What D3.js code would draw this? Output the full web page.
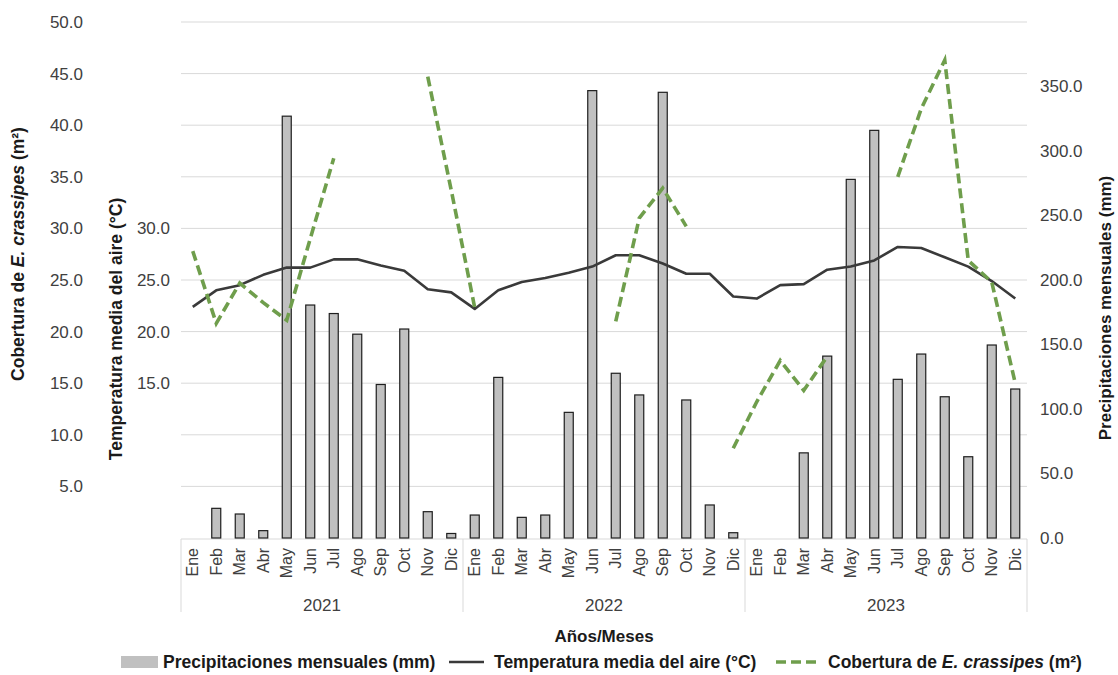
<!DOCTYPE html>
<html>
<head>
<meta charset="utf-8">
<script src="https://cdn.jsdelivr.net/npm/d3@7"></script>
<style>
  body { margin: 0; background: #fff; }
  svg text { font-family: "Liberation Sans", Arial, sans-serif; }
</style>
</head>
<body>
<div id="chart"></div>
<script>
// months and years on the category axis
const months = ["Ene","Feb","Mar","Abr","May","Jun","Jul","Ago","Sep","Oct","Nov","Dic"];
const years = ["2021","2022","2023"];

// monthly rainfall (mm), 2021..2023, null = no bar
const precip2021 = [null, 23, 18.6, 5.7, 327, 180.6, 174, 158, 119, 162, 20.4, 3.5];
const precip2022 = [17.8, 124.5, 16, 17.8, 97.4, 346.8, 127.7, 110.9, 345.5, 107, 25.6, 4.1];
const precip2023 = [null, null, 66, 141, 278, 316, 123, 142.6, 109.5, 63, 149.6, 115.5];

// mean air temperature (°C)
const temp2021 = [22.4, 24.0, 24.5, 25.5, 26.2, 26.2, 27.0, 27.0, 26.4, 25.9, 24.1, 23.8];
const temp2022 = [22.2, 24.0, 24.8, 25.2, 25.7, 26.3, 27.4, 27.4, 26.6, 25.6, 25.6, 23.4];
const temp2023 = [23.2, 24.5, 24.6, 26.0, 26.3, 26.9, 28.2, 28.1, 27.2, 26.3, 24.9, 23.2];

// E. crassipes cover (m2), null = gap in the line
const cob2021 = [27.8, 20.8, 24.7, 22.8, 21.1, 29.0, 36.8, null, null, null, 44.7, 33.7];
const cob2022 = [22.3, null, null, null, null, null, 21.0, 31.0, 33.9, 30.2, null, 8.7];
const cob2023 = [13.2, 17.2, 14.3, 17.6, null, null, 35.0, 41.6, 46.3, 26.9, 24.8, 15.0];

const precip = precip2021.concat(precip2022, precip2023);
const temp = temp2021.concat(temp2022, temp2023);
const cob = cob2021.concat(cob2022, cob2023);

const width = 1118, height = 675;
const plot = { left: 181, right: 1027, top: 22, bottom: 538 };

const svg = d3.select("#chart").append("svg")
  .attr("width", width)
  .attr("height", height);

// scales
const x = d3.scaleBand()
  .domain(d3.range(36))
  .range([plot.left, plot.right]);
const yLeft = d3.scaleLinear().domain([0, 50]).range([plot.bottom, plot.top]);
const yRight = d3.scaleLinear().domain([0, 400]).range([plot.bottom, plot.top]);
const cx = i => x(i) + x.bandwidth() / 2;

// gridlines
svg.append("g")
  .selectAll("line")
  .data(d3.range(5, 51, 5))
  .enter().append("line")
    .attr("x1", plot.left).attr("x2", plot.right)
    .attr("y1", d => yLeft(d)).attr("y2", d => yLeft(d))
    .attr("stroke", "#d9d9d9")
    .attr("stroke-width", 1);

// category box
const box = svg.append("g").attr("stroke", "#d9d9d9").attr("stroke-width", 1);
box.append("line")
  .attr("x1", plot.left).attr("x2", plot.right)
  .attr("y1", plot.bottom + 1).attr("y2", plot.bottom + 1);
box.selectAll(".sep")
  .data(d3.range(0, 37, 12))
  .enter().append("line")
    .attr("class", "sep")
    .attr("x1", d => d < 36 ? x(d) : plot.right)
    .attr("x2", d => d < 36 ? x(d) : plot.right)
    .attr("y1", plot.bottom + 1).attr("y2", 612);

// axes
const fmt = d3.format(".1f");
function styleAxis(g) {
  g.select(".domain").remove();
  g.selectAll("text").attr("font-size", "17px").attr("fill", "#404040")
    .style("font-family", "'Liberation Sans', Arial, sans-serif");
}
svg.append("g")
  .attr("transform", "translate(83,0)")
  .call(d3.axisLeft(yLeft).tickValues(d3.range(5, 51, 5)).tickFormat(fmt).tickSize(0).tickPadding(0))
  .call(styleAxis);
svg.append("g")
  .attr("transform", "translate(170,0)")
  .call(d3.axisLeft(yLeft).tickValues([15, 20, 25, 30]).tickFormat(fmt).tickSize(0).tickPadding(0))
  .call(styleAxis);
svg.append("g")
  .attr("transform", "translate(1040,0)")
  .call(d3.axisRight(yRight).tickValues(d3.range(0, 351, 50)).tickFormat(fmt).tickSize(0).tickPadding(0))
  .call(styleAxis);

// month labels
svg.append("g")
  .selectAll("text")
  .data(d3.range(36))
  .enter().append("text")
    .attr("transform", d => "translate(" + cx(d) + ",548) rotate(-90)")
    .attr("dy", "0.35em")
    .attr("text-anchor", "end")
    .attr("font-size", "16px")
    .attr("fill", "#404040")
    .text(d => months[d % 12]);

// year labels
svg.append("g")
  .selectAll("text")
  .data(years)
  .enter().append("text")
    .attr("x", (d, i) => (x(i * 12) + (i < 2 ? x(i * 12 + 12) : plot.right)) / 2)
    .attr("y", 611)
    .attr("text-anchor", "middle")
    .attr("font-size", "17px")
    .attr("fill", "#404040")
    .text(d => d);

// bars
const barW = 9;
svg.append("g")
  .selectAll("rect")
  .data(precip.map((v, i) => ({ i: i, v: v })).filter(d => d.v != null))
  .enter().append("rect")
    .attr("x", d => cx(d.i) - barW / 2)
    .attr("y", d => yRight(d.v))
    .attr("width", barW)
    .attr("height", d => yRight(0) - yRight(d.v))
    .attr("fill", "#c0c0c0")
    .attr("stroke", "#1e1e1e")
    .attr("stroke-width", 1.2);

// temperature line
const lineTemp = d3.line()
  .x((d, i) => cx(i))
  .y(d => yLeft(d));
svg.append("path")
  .datum(temp)
  .attr("d", lineTemp)
  .attr("fill", "none")
  .attr("stroke", "#3a3a3a")
  .attr("stroke-width", 2.6)
  .attr("stroke-linejoin", "round");

// cover line, dashed with gaps
const lineCob = d3.line()
  .defined(d => d != null)
  .x((d, i) => cx(i))
  .y(d => yLeft(d));
svg.append("path")
  .datum(cob)
  .attr("d", lineCob)
  .attr("fill", "none")
  .attr("stroke", "#6f9e4c")
  .attr("stroke-width", 3.6)
  .attr("stroke-dasharray", "10,5");

// axis titles
function italicTitle(t, pre, it, post) {
  t.append("tspan").text(pre);
  t.append("tspan").attr("font-style", "italic").text(it);
  t.append("tspan").text(post);
}
const tCob = svg.append("text")
  .attr("transform", "translate(24,254) rotate(-90)")
  .attr("text-anchor", "middle")
  .attr("font-size", "17.5px").attr("font-weight", "bold").attr("fill", "#1a1a1a");
italicTitle(tCob, "Cobertura de ", "E. crassipes", " (m²)");

svg.append("text")
  .attr("transform", "translate(122,329) rotate(-90)")
  .attr("text-anchor", "middle")
  .attr("font-size", "17.5px").attr("font-weight", "bold").attr("fill", "#1a1a1a")
  .text("Temperatura media del aire (°C)");

svg.append("text")
  .attr("transform", "translate(1111,308) rotate(-90)")
  .attr("text-anchor", "middle")
  .attr("font-size", "17px").attr("font-weight", "bold").attr("fill", "#1a1a1a")
  .text("Precipitaciones mensuales (mm)");

svg.append("text")
  .attr("x", 604).attr("y", 642)
  .attr("text-anchor", "middle")
  .attr("font-size", "17px").attr("font-weight", "bold").attr("fill", "#1a1a1a")
  .text("Años/Meses");

// legend
const leg = svg.append("g");
const legY = 662;
leg.append("rect")
  .attr("x", 121).attr("y", legY - 6).attr("width", 37).attr("height", 12)
  .attr("fill", "#c0c0c0");
leg.append("text")
  .attr("x", 163).attr("y", legY).attr("dy", "0.35em")
  .attr("font-size", "17.5px").attr("font-weight", "bold").attr("fill", "#1a1a1a")
  .text("Precipitaciones mensuales (mm)");
leg.append("line")
  .attr("x1", 449).attr("x2", 484).attr("y1", legY).attr("y2", legY)
  .attr("stroke", "#3a3a3a").attr("stroke-width", 2.6);
leg.append("text")
  .attr("x", 494).attr("y", legY).attr("dy", "0.35em")
  .attr("font-size", "17.5px").attr("font-weight", "bold").attr("fill", "#1a1a1a")
  .text("Temperatura media del aire (°C)");
leg.append("line")
  .attr("x1", 776).attr("x2", 818).attr("y1", legY).attr("y2", legY)
  .attr("stroke", "#6f9e4c").attr("stroke-width", 3.6)
  .attr("stroke-dasharray", "10,5");
const tLeg = leg.append("text")
  .attr("x", 828).attr("y", legY).attr("dy", "0.35em")
  .attr("font-size", "17.5px").attr("font-weight", "bold").attr("fill", "#1a1a1a");
italicTitle(tLeg, "Cobertura de ", "E. crassipes", " (m²)");
</script>
</body>
</html>
